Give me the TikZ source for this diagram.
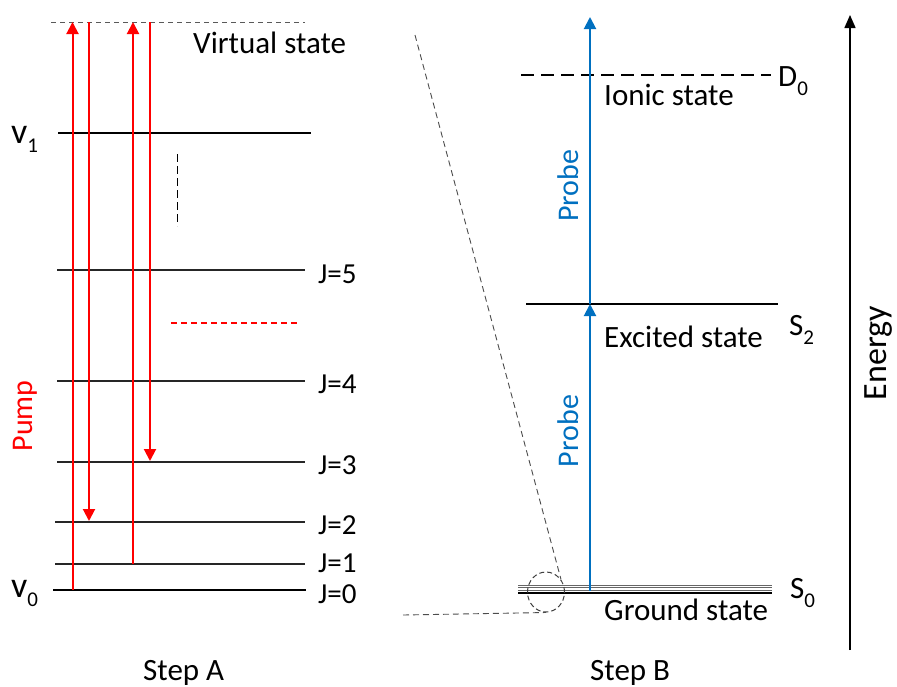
\documentclass[tikz,border=0pt]{standalone}
\usepackage{fontspec}
\setmainfont{Carlito}
\usetikzlibrary{arrows.meta,shapes.geometric}
\definecolor{probeblue}{RGB}{0,112,192}
\newcommand\lsub[2]{#1\raisebox{-9pt}{\fontsize{21}{21}\selectfont #2}}
\tikzset{
  txt/.style={inner sep=0pt, anchor=base west, font=\fontsize{31}{36}\selectfont},
  jtxt/.style={inner sep=0pt, anchor=base west, font=\fontsize{29}{31}\selectfont},
  vtxt/.style={inner sep=0pt, anchor=base west, font=\fontsize{36}{40}\selectfont},
  rot/.style={inner sep=0pt, rotate=90, font=\fontsize{30}{34}\selectfont},
  vlevel/.style={line width=2pt, black},
  jlevel/.style={line width=1.1pt, black!85},
  redarrow/.style={red, line width=2pt, -{Triangle[length=12pt,width=12pt]}},
  bluearrow/.style={probeblue, line width=2pt, -{Triangle[length=12pt,width=12pt]}},
  zoomline/.style={black!70, line width=0.9pt, dash pattern=on 6pt off 4pt},
}
\begin{document}
\begin{tikzpicture}[x=1pt,y=-1pt]
\useasboundingbox (0,0) rectangle (897,686);
\fill[white] (0,0) rectangle (897,686);

% ---------- Step A ----------
\coordinate (virtL) at (51,22);  \coordinate (virtR) at (305,22);
\draw[black!65, line width=1pt, dash pattern=on 5pt off 4pt] (virtL) -- (virtR);
\node[txt] (virt) at (193,53) {Virtual state};

\coordinate (v1L) at (58,133); \coordinate (v1R) at (311,133);
\draw[vlevel] (v1L) -- (v1R);
\node[vtxt] (v1) at (11,143) {\lsub{v}{1}};

\coordinate (j5L) at (57,270); \coordinate (j5R) at (305,270);
\coordinate (j4L) at (57,381); \coordinate (j4R) at (305,381);
\coordinate (j3L) at (57,462); \coordinate (j3R) at (305,462);
\coordinate (j2L) at (55,522); \coordinate (j2R) at (305,522);
\coordinate (j1L) at (55,564); \coordinate (j1R) at (305,564);
\coordinate (j0L) at (53,590); \coordinate (j0R) at (306,590);
\draw[jlevel] (j5L) -- (j5R);
\draw[jlevel] (j4L) -- (j4R);
\draw[jlevel] (j3L) -- (j3R);
\draw[jlevel] (j2L) -- (j2R);
\draw[jlevel] (j1L) -- (j1R);
\draw[vlevel] (j0L) -- (j0R);
\node[jtxt] (J5) at (318,283) {J=5};
\node[jtxt] (J4) at (318,393) {J=4};
\node[jtxt] (J3) at (318,474) {J=3};
\node[jtxt] (J2) at (318,534) {J=2};
\node[jtxt] (J1) at (318,572) {J=1};
\node[jtxt] (J0) at (318,603) {J=0};
\node[vtxt] (v0) at (11,597) {\lsub{v}{0}};

% dashed marks
\coordinate (bdT) at (177,154); \coordinate (bdB) at (177,226);
\draw[black, line width=1pt, dash pattern=on 8pt off 4pt] (bdT) -- (bdB);
\coordinate (rdL) at (171,323); \coordinate (rdR) at (298,323);
\draw[red, line width=1.2pt, dash pattern=on 6pt off 4pt] (rdL) -- (rdR);

% red arrows
\coordinate (a1s) at (72.5,590); \coordinate (a1e) at (72.5,22);
\coordinate (a2s) at (89,22);    \coordinate (a2e) at (89,521);
\coordinate (a3s) at (133,564);  \coordinate (a3e) at (133,22);
\coordinate (a4s) at (150,22);   \coordinate (a4e) at (150,461);
\draw[redarrow] (a1s) -- (a1e);
\draw[redarrow] (a2s) -- (a2e);
\draw[redarrow] (a3s) -- (a3e);
\draw[redarrow] (a4s) -- (a4e);
\node[rot, red] (pump) at (25.5,416) {Pump};

\node[txt] (stepA) at (143,680) {Step A};

% ---------- Step B ----------
\coordinate (d0L) at (521,75); \coordinate (d0R) at (771,75);
\draw[black, line width=2pt, dash pattern=on 13pt off 7pt] (d0L) -- (d0R);
\node[txt] (D0) at (778,86) {\lsub{D}{0}};
\node[txt] (ionic) at (604,105) {Ionic state};

\coordinate (s2L) at (526,304); \coordinate (s2R) at (778,304);
\draw[vlevel] (s2L) -- (s2R);
\node[txt] (S2) at (789,335) {\lsub{S}{2}};
\node[txt] (excited) at (604,347) {Excited state};

\coordinate (s0aL) at (518,585.5); \coordinate (s0aR) at (772,585.5);
\coordinate (s0bL) at (518,587.8); \coordinate (s0bR) at (772,587.8);
\coordinate (s0cL) at (518,590.1); \coordinate (s0cR) at (772,590.1);
\coordinate (s0dL) at (518,592.8); \coordinate (s0dR) at (772,592.8);
\draw[black!60, line width=0.8pt] (s0aL) -- (s0aR);
\draw[black!60, line width=0.8pt] (s0bL) -- (s0bR);
\draw[black!60, line width=0.8pt] (s0cL) -- (s0cR);
\draw[black, line width=1.4pt] (s0dL) -- (s0dR);
\node[txt] (S0) at (790,598) {\lsub{S}{0}};
\node[txt] (ground) at (604,620) {Ground state};

% probe arrows
\coordinate (p0) at (590,591); \coordinate (p1) at (590,304); \coordinate (p2) at (590,17);
\draw[bluearrow] (p0) -- (p1);
\draw[bluearrow] (p1) -- (p2);
\node[rot, probeblue] (probe1) at (568,186) {Probe};
\node[rot, probeblue] (probe2) at (568,431) {Probe};

% zoom circle and lines
\node[draw=black!75, line width=1pt, dash pattern=on 5pt off 3pt, ellipse, minimum width=37pt, minimum height=40pt, inner sep=0pt] (circ) at (546,592) {};
\coordinate (zTop) at (415,35);
\coordinate (zBot) at (403,615);
\draw[zoomline] (zTop) -- (circ.40);
\draw[zoomline] (zBot) -- (circ.south);

\node[txt] (stepB) at (590,680) {Step B};

% energy axis
\coordinate (eB) at (850,650); \coordinate (eT) at (850,15);
\draw[black, line width=1.5pt, -{Triangle[length=13pt,width=11pt]}] (eB) -- (eT);
\node[rot, font=\fontsize{34}{38}\selectfont] (energy) at (879,353) {Energy};
\end{tikzpicture}
\end{document}
